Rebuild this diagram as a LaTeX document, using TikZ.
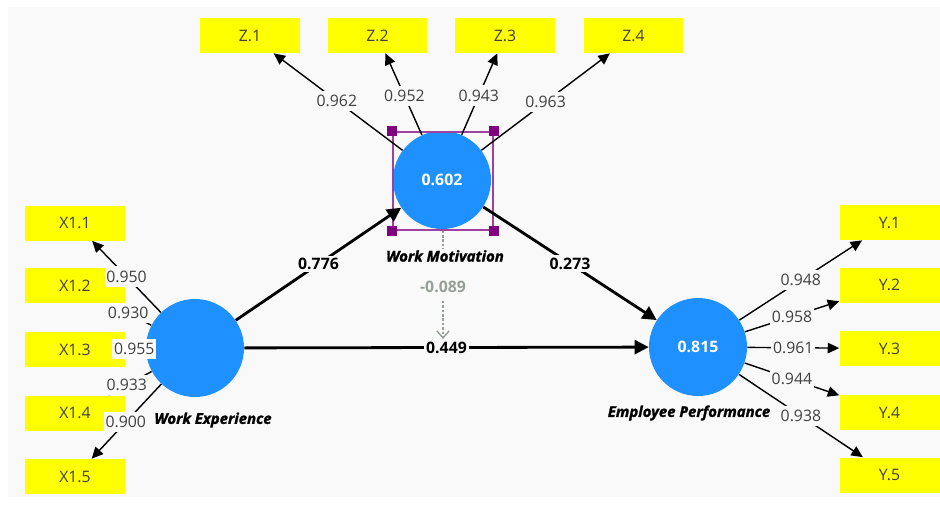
\documentclass[tikz,border=0pt]{standalone}
\usepackage{fontspec}
\setmainfont{Open Sans}
\newfontfamily\namefont{Open Sans}[BoldItalicFeatures={FakeBold=1.5}]
\usetikzlibrary{arrows.meta}
\definecolor{lvblue}{RGB}{30,144,255}
\definecolor{itemyellow}{RGB}{255,255,0}
\definecolor{canvasgray}{RGB}{249,249,249}
\definecolor{selpurple}{RGB}{128,0,128}
\definecolor{loadgray}{RGB}{64,64,64}
\definecolor{modgray}{RGB}{150,160,150}

\begin{document}
\begin{tikzpicture}[x=0.02cm,y=-0.02cm,
  latent/.style={circle,fill=lvblue,minimum size=1.96cm,inner sep=0pt,text=white,font=\bfseries\fontsize{9}{10}\selectfont},
  indicator/.style={rectangle,fill=itemyellow,minimum width=2cm,minimum height=0.7cm,inner sep=0pt,text=loadgray,font=\fontsize{9}{10}\selectfont},
  loading/.style={-{Triangle[length=6.5pt,width=6pt]},line width=0.8pt,black},
  struct/.style={-{Triangle[length=8pt,width=8pt]},line width=1.6pt,black},
  lval/.style={fill=canvasgray,inner xsep=1pt,inner ysep=2.5pt,text=loadgray,font=\fontsize{9}{10}\selectfont},
  pval/.style={fill=canvasgray,inner sep=1.5pt,font=\bfseries\fontsize{9}{10}\selectfont},
  lvname/.style={fill=canvasgray,inner sep=1pt,font=\namefont\bfseries\itshape\fontsize{8.5}{10}\selectfont},
  handle/.style={fill=selpurple,minimum size=0.2cm,inner sep=0pt}]
  \useasboundingbox (0,0) rectangle (940,504);
  % Canvas
  \fill[white] (0,0) rectangle (940,504);
  \fill[canvasgray] (8,7) rectangle (940,497);
  % Indicators
  \node[indicator] (z1) at (250,35.5) {Z.1};
  \node[indicator] (z2) at (377.5,35.5) {Z.2};
  \node[indicator] (z3) at (505,35.5) {Z.3};
  \node[indicator] (z4) at (633.5,35.5) {Z.4};
  \node[indicator] (x11) at (75,223) {X1.1};
  \node[indicator] (x12) at (75,285.5) {X1.2};
  \node[indicator] (x13) at (75,349.5) {X1.3};
  \node[indicator] (x14) at (75,413) {X1.4};
  \node[indicator] (x15) at (75,476.5) {X1.5};
  \node[indicator] (y1) at (889.5,222.5) {Y.1};
  \node[indicator] (y2) at (889.5,285) {Y.2};
  \node[indicator] (y3) at (889.5,348.5) {Y.3};
  \node[indicator] (y4) at (889.5,412.5) {Y.4};
  \node[indicator] (y5) at (889.5,475) {Y.5};
  % Latent variables
  \node[latent] (we) at (195,348) {};
  \node[latent] (wm) at (442,180) {0.602};
  \node[latent] (ep) at (698,347) {0.815};
  % Selection frame
  \node[draw=selpurple!75,line width=0.6pt,minimum width=2cm,minimum height=1.96cm,inner sep=0pt] (sel) at (443,181) {};
  \node[handle] at (sel.north west) {};
  \node[handle] at (sel.north east) {};
  \node[handle] at (sel.south west) {};
  \node[handle] at (sel.south east) {};
  % Outer loadings
  \draw[loading] (we) -- (x11) node[lval,pos=0.5] {0.950};
  \draw[loading] (we) -- (x12) node[lval,pos=0.55] {0.930};
  \draw[loading] (we) -- (x13) node[lval,fill=white,pos=0.56] {0.955};
  \draw[loading] (we) -- (x14) node[lval,pos=0.57] {0.933};
  \draw[loading] (we) -- (x15) node[lval,pos=0.51] {0.900};
  \draw[loading] (wm) -- (z1) node[lval,pos=0.51] {0.962};
  \draw[loading] (wm) -- (z2) node[lval,pos=0.48] {0.952};
  \draw[loading] (wm) -- (z3) node[lval,pos=0.48] {0.943};
  \draw[loading] (wm) -- (z4) node[lval,pos=0.5] {0.963};
  \draw[loading] (ep) -- (y1) node[lval,pos=0.5] {0.948};
  \draw[loading] (ep) -- (y2) node[lval,pos=0.5] {0.958};
  \draw[loading] (ep) -- (y3) node[lval,pos=0.5] {0.961};
  \draw[loading] (ep) -- (y4) node[lval,pos=0.5] {0.944};
  \draw[loading] (ep) -- (y5) node[lval,pos=0.5] {0.938};
  % Moderating effect
  \coordinate (modend) at (443,339);
  \draw[modgray,line width=0.8pt,dash pattern=on 1.5pt off 1pt,-{Straight Barb[length=4pt,width=7pt]}] (sel.south) -- (modend)
    node[pos=0.574,anchor=base,fill=canvasgray,inner sep=1.5pt,text height=17pt,text depth=2pt,text=modgray,font=\bfseries\fontsize{9}{10}\selectfont] {-0.089};
  % Path coefficients
  \draw[struct] (we) -- (wm) node[pval,pos=0.5] {0.776};
  \draw[struct] (wm) -- (ep) node[pval,pos=0.5] {0.273};
  \draw[struct] (we) -- (ep) node[pval,pos=0.5,inner sep=1pt] {0.449};
  % Names
  \node[lvname] (wename) at (213,420) {Work Experience};
  \node[lvname] (wmname) at (445,256) {Work Motivation};
  \node[lvname] (epname) at (689,413) {Employee Performance};
\end{tikzpicture}
\end{document}
